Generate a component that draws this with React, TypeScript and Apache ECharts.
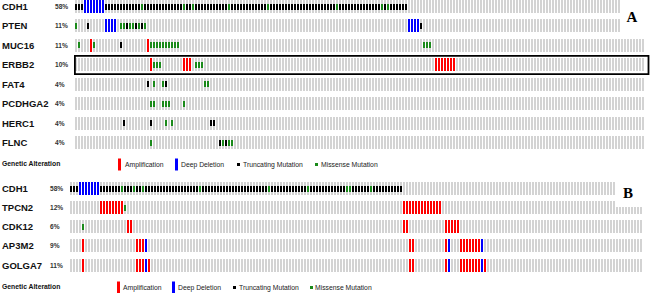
import { useEffect, useRef } from 'react';
import * as echarts from 'echarts';

type Seg = [number, number, 'A' | 'D' | 'T' | 'M'];

// ---------- Panel A ----------
const GENES_A = ['CDH1', 'PTEN', 'MUC16', 'ERBB2', 'FAT4', 'PCDHGA2', 'HERC1', 'FLNC'];
const PCT_A = ['58%', '11%', '11%', '10%', '4%', '4%', '4%', '4%'];
const CASES_A = 190;

const A_CDH1: Seg[] = [[0, 2, 'T'], [3, 9, 'D'], [10, 110, 'T'], [22, 22, 'M'], [36, 36, 'M'], [39, 39, 'M'], [51, 51, 'M'], [64, 64, 'M'], [87, 87, 'M'], [102, 102, 'M'], [104, 104, 'M']];
const A_PTEN: Seg[] = [[0, 0, 'M'], [4, 4, 'T'], [10, 13, 'D'], [15, 16, 'M'], [17, 17, 'T'], [18, 19, 'M'], [20, 20, 'T'], [21, 21, 'M'], [22, 22, 'T'], [23, 23, 'M'], [111, 114, 'D'], [115, 115, 'T']];
const A_MUC16: Seg[] = [[1, 1, 'M'], [5, 5, 'A'], [6, 6, 'M'], [15, 15, 'T'], [24, 24, 'A'], [25, 34, 'M'], [116, 118, 'M']];
const A_ERBB2: Seg[] = [[25, 25, 'A'], [26, 28, 'M'], [36, 38, 'A'], [40, 42, 'M'], [120, 126, 'A']];
const A_FAT4: Seg[] = [[24, 24, 'T'], [26, 26, 'M'], [29, 29, 'M'], [30, 30, 'T'], [43, 44, 'M']];
const A_PCDHGA2: Seg[] = [[25, 26, 'M'], [29, 31, 'M'], [36, 36, 'M']];
const A_HERC1: Seg[] = [[16, 16, 'T'], [25, 25, 'T'], [30, 30, 'M'], [32, 32, 'M'], [45, 46, 'T']];
const A_FLNC: Seg[] = [[25, 25, 'M'], [48, 48, 'T'], [49, 49, 'M'], [50, 50, 'T'], [51, 52, 'M']];
const ROWS_A = [A_CDH1, A_PTEN, A_MUC16, A_ERBB2, A_FAT4, A_PCDHGA2, A_HERC1, A_FLNC];

// ---------- Panel B ----------
const GENES_B = ['CDH1', 'TPCN2', 'CDK12', 'AP3M2', 'GOLGA7'];
const PCT_B = ['58%', '12%', '6%', '9%', '11%'];
const CASES_B = 191;

const B_CDH1: Seg[] = [[0, 2, 'T'], [3, 9, 'D'], [10, 110, 'T'], [17, 17, 'M'], [21, 21, 'M'], [24, 24, 'M'], [43, 43, 'M'], [66, 66, 'M'], [79, 79, 'M'], [92, 93, 'M'], [100, 100, 'M']];
const B_TPCN2: Seg[] = [[10, 17, 'A'], [18, 18, 'M'], [111, 123, 'A']];
const B_CDK12: Seg[] = [[4, 4, 'M'], [19, 20, 'A'], [111, 112, 'A'], [125, 129, 'A']];
const B_AP3M2: Seg[] = [[4, 4, 'A'], [22, 24, 'A'], [25, 25, 'D'], [113, 114, 'A'], [125, 125, 'A'], [126, 126, 'D'], [130, 136, 'A'], [137, 137, 'D']];
const B_GOLGA7: Seg[] = [[4, 4, 'A'], [22, 24, 'A'], [25, 25, 'D'], [26, 26, 'A'], [113, 114, 'A'], [125, 125, 'A'], [126, 126, 'D'], [130, 136, 'A'], [137, 137, 'D'], [138, 138, 'A']];
const ROWS_B = [B_CDH1, B_TPCN2, B_CDK12, B_AP3M2, B_GOLGA7];

const LEGEND_TITLE = 'Genetic Alteration';
const LEGEND_LABELS = ['Amplification', 'Deep Deletion', 'Truncating Mutation', 'Missense Mutation'];
const LEGEND_CODES = [1, 2, 3, 4];

const CODE: Record<string, number> = { A: 1, D: 2, T: 3, M: 4 };
const COLORS: Record<number, string> = { 0: '#d3d3d3', 1: '#ff0000', 2: '#0000ff', 3: '#000000', 4: '#1a8a1a' };

const SANS = '"Liberation Sans", Arial, sans-serif';

function buildBg(nRows: number, nCols: number) {
  const out: number[][] = [];
  for (let r = 0; r < nRows; r++) for (let c = 0; c < nCols; c++) out.push([c, r]);
  return out;
}
function buildMarks(rows: Seg[][]) {
  const out: number[][] = [];
  rows.forEach((segs, r) =>
    segs.forEach(([s, e, t]) => {
      for (let c = s; c <= e; c++) out.push([c, r, CODE[t]]);
    })
  );
  out.sort((a, b) => a[2] - b[2]);
  return out;
}

const renderCell = (isBg: boolean) => (_params: any, api: any) => {
  const p = api.coord([api.value(0), api.value(1)]);
  const size = api.size([1, 1]);
  const x = Math.round(p[0] - size[0] / 2);
  const code = isBg ? 0 : api.value(2);
  const full = Math.round(size[1] * 0.68);
  const h = code === 3 || code === 4 ? 6 : full;
  const y = Math.round(p[1] - h / 2);
  return { type: 'rect', shape: { x, y, width: 2, height: h }, style: { fill: COLORS[code] } };
};

function yAxisFor(gridIndex: number, genes: string[], pcts: string[], margin: number, nameWidth: number) {
  return {
    gridIndex,
    type: 'category',
    data: genes,
    inverse: true,
    axisLine: { show: false },
    axisTick: { show: false },
    splitLine: { show: false },
    axisLabel: {
      interval: 0,
      margin,
      align: 'left',
      formatter: (v: string, i: number) => `{g|${v}}{p|${pcts[i]}}`,
      rich: {
        g: { fontFamily: SANS, fontWeight: 'bold', fontSize: 9.5, color: '#111', width: nameWidth },
        p: { fontFamily: SANS, fontWeight: 'bold', fontSize: 6.6, color: '#333' },
      },
    },
  };
}

function legendGraphics(cy: number, markX: number[], textX: number[]) {
  const els: any[] = [
    { type: 'text', z: 100, style: { text: LEGEND_TITLE, x: 2, y: cy - 1, font: `bold 6.8px ${SANS}`, fill: '#111', align: 'left', verticalAlign: 'middle' } },
  ];
  LEGEND_LABELS.forEach((lab, i) => {
    const code = LEGEND_CODES[i];
    const full = code === 1 || code === 2;
    els.push({
      type: 'rect', z: 100,
      shape: full ? { x: markX[i], y: cy - 6, width: 3, height: 12 } : { x: markX[i], y: cy - 1.5, width: 3, height: 3 },
      style: { fill: COLORS[code] },
    });
    els.push({ type: 'text', z: 100, style: { text: lab, x: textX[i], y: cy, font: `6.8px ${SANS}`, fill: '#222', align: 'left', verticalAlign: 'middle' } });
  });
  return els;
}

export default function App() {
  const ref = useRef<HTMLDivElement>(null);
  useEffect(() => {
    if (!ref.current) return;
    const chart = echarts.init(ref.current, undefined, { renderer: 'svg' });
    const colsA = Array.from({ length: CASES_A }, (_, i) => String(i));
    const colsB = Array.from({ length: CASES_B }, (_, i) => String(i));
    const option: any = {
      animation: false,
      backgroundColor: '#ffffff',
      grid: [
        { left: 75, top: -3.2, width: 570, height: 155.5, containLabel: false, outerBoundsMode: 'none' },
        { left: 70, top: 179, width: 573, height: 95.6, containLabel: false, outerBoundsMode: 'none' },
      ],
      xAxis: [
        { gridIndex: 0, type: 'category', data: colsA, show: false },
        { gridIndex: 1, type: 'category', data: colsB, show: false },
      ],
      yAxis: [yAxisFor(0, GENES_A, PCT_A, 73, 53), yAxisFor(1, GENES_B, PCT_B, 68, 48)],
      series: [
        { type: 'custom', xAxisIndex: 0, yAxisIndex: 0, data: buildBg(GENES_A.length, CASES_A), renderItem: renderCell(true), silent: true, clip: false },
        { type: 'custom', xAxisIndex: 0, yAxisIndex: 0, data: buildMarks(ROWS_A), renderItem: renderCell(false), silent: true, clip: false, z: 3 },
        { type: 'custom', xAxisIndex: 1, yAxisIndex: 1, data: buildBg(GENES_B.length, CASES_B), renderItem: renderCell(true), silent: true, clip: false },
        { type: 'custom', xAxisIndex: 1, yAxisIndex: 1, data: buildMarks(ROWS_B), renderItem: renderCell(false), silent: true, clip: false, z: 3 },
      ],
      graphic: {
        elements: [
          { type: 'rect', z: 100, shape: { x: 74.9, y: 55.8, width: 573.6, height: 18.4 }, style: { fill: 'none', stroke: '#000', lineWidth: 1.8 } },
          { type: 'rect', z: 100, shape: { x: 620, y: 0, width: 30, height: 34 }, style: { fill: '#fff' } },
          { type: 'text', z: 101, style: { text: 'A', x: 632, y: 17, font: `bold 15px "Liberation Serif", "Times New Roman", serif`, fill: '#000', align: 'center', verticalAlign: 'middle' } },
          { type: 'rect', z: 100, shape: { x: 616, y: 178, width: 34, height: 29 }, style: { fill: '#fff' } },
          { type: 'text', z: 101, style: { text: 'B', x: 628, y: 193, font: `bold 15px "Liberation Serif", "Times New Roman", serif`, fill: '#000', align: 'center', verticalAlign: 'middle' } },
          ...legendGraphics(164.5, [118, 175, 237, 315], [125, 181, 243, 321]),
          ...legendGraphics(287.5, [117, 172, 233, 310], [123, 178, 239, 315]),
        ],
      },
    };
    chart.setOption(option);
    return () => chart.dispose();
  }, []);
  return <div ref={ref} style={{ position: 'absolute', left: 0, top: 0, width: 650, height: 293 }} />;
}
